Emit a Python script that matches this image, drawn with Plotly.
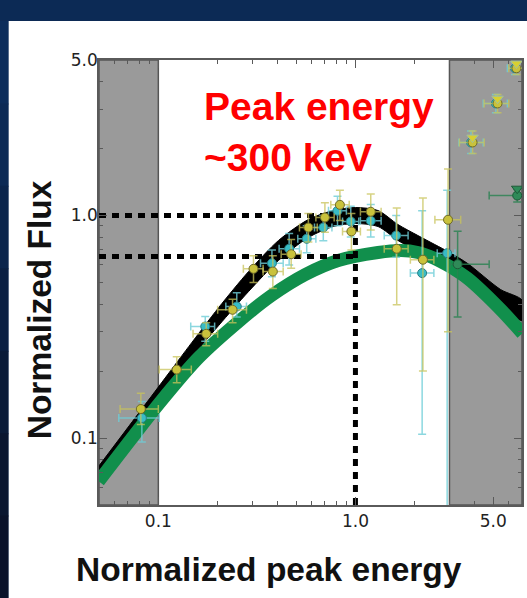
import plotly.graph_objects as go
import numpy as np

# ---------------- data ----------------
# black model band (upper / lower edges)
black_x = [0.05, 0.0711, 0.0997, 0.1429, 0.2025, 0.2871, 0.4071, 0.577, 0.7716, 1.0, 1.302, 1.643, 2.074, 2.527, 3.009, 3.709, 5.444, 7.03]
black_hi = [0.0750, 0.1134, 0.1689, 0.2581, 0.3862, 0.5604, 0.7724, 0.9595, 1.0530, 1.0862, 1.0530, 0.9112, 0.8131, 0.7407, 0.6823, 0.6087, 0.4653, 0.4152]
black_lo = [0.0712, 0.1055, 0.1524, 0.2233, 0.3207, 0.4557, 0.6281, 0.7963, 0.8925, 0.9206, 0.8925, 0.7724, 0.6894, 0.6281, 0.5780, 0.5160, 0.3862, 0.3377]

# green model curve
green_x = [0.0498, 0.102, 0.1605, 0.2557, 0.3753, 0.5571, 0.8177, 1.302, 1.701, 2.074, 2.527, 3.009, 3.709, 5.444, 7.03]
green_y = [0.0639, 0.1446, 0.2303, 0.3342, 0.4373, 0.5433, 0.6281, 0.6823, 0.6964, 0.6823, 0.641, 0.590, 0.5214, 0.3784, 0.2952]

# yellow data points
yel_x = [0.0815, 0.124, 0.175, 0.238, 0.304, 0.381, 0.472, 0.577, 0.70, 0.834, 0.954, 1.196, 1.62, 2.20, 2.95, 3.93, 5.26, 6.56]
yel_y = [0.135, 0.203, 0.294, 0.377, 0.576, 0.56, 0.67, 0.883, 0.98, 1.117, 0.848, 1.04, 0.709, 0.633, 0.957, 2.13, 3.19, 4.59]
yel_xlo = [0.064, 0.101, 0.15, 0.20, 0.27, 0.34, 0.42, 0.52, 0.63, 0.75, 0.86, 1.06, 1.40, 1.9, 2.53, 3.37, 4.5, 6.0]
yel_xhi = [0.100, 0.147, 0.20, 0.28, 0.34, 0.43, 0.53, 0.64, 0.78, 0.93, 1.06, 1.35, 1.85, 2.5, 3.42, 4.5, 6.0, 7.2]
yel_ylo = [0.115, 0.177, 0.26, 0.33, 0.50, 0.47, 0.58, 0.76, 0.84, 0.95, 0.70, 0.86, 0.397, 0.20, 0.30, 1.9, 2.9, 4.3]
yel_yhi = [0.159, 0.232, 0.33, 0.42, 0.66, 0.66, 0.78, 1.02, 1.14, 1.30, 1.02, 1.25, 1.08, 1.20, 1.62, 2.4, 3.5, 4.9]

# cyan data points
cyan_x = [0.0825, 0.173, 0.25, 0.377, 0.461, 0.566, 0.687, 0.811, 0.947, 1.196, 1.61, 2.18, 2.92, 3.86, 5.16, 6.45]
cyan_y = [0.123, 0.317, 0.39, 0.61, 0.709, 0.786, 0.883, 1.05, 0.94, 0.947, 0.813, 0.551, 0.677, 2.13, 3.19, 4.59]
cyan_xlo = [0.063, 0.146, 0.22, 0.33, 0.41, 0.51, 0.62, 0.73, 0.86, 1.06, 1.40, 1.9, 2.6, 3.35, 4.45, 5.9]
cyan_xhi = [0.101, 0.193, 0.28, 0.43, 0.52, 0.63, 0.76, 0.90, 1.04, 1.35, 1.85, 2.5, 3.2, 4.45, 5.9, 7.2]
cyan_ylo = [0.096, 0.272, 0.35, 0.53, 0.60, 0.68, 0.77, 0.90, 0.80, 0.80, 0.65, 0.104, 0.04, 1.9, 2.9, 4.3]
cyan_yhi = [0.146, 0.352, 0.45, 0.70, 0.83, 0.90, 1.00, 1.22, 1.10, 1.12, 1.00, 1.05, 1.30, 2.4, 3.5, 4.9]

# green data points
grn_x = [3.30, 6.62]
grn_y = [0.604, 1.23]
grn_xlo = [3.03, 4.77]
grn_xhi = [4.77, 7.2]
grn_ylo = [0.35, 1.15]
grn_yhi = [0.85, 1.31]

# upper-limit triangles
lim_yel_x = [3.93, 5.26, 6.56]
lim_yel_y = [2.24, 3.35, 4.82]
lim_grn_x = [6.62]
lim_grn_y = [1.32]

# reference lines
peak_x = 1.0
peak_flux = 1.0
green_ref_flux = 0.655

# shaded regions (x ranges)
shade_left = (0.05, 0.1)
shade_right = (3.0, 7.0)

x_range = (0.05, 7.0)
y_range = (0.05, 5.0)

x_tickvals = [0.1, 1.0, 5.0]
x_ticktext = ["0.1", "1.0", "5.0"]
y_tickvals = [0.1, 1.0, 5.0]
y_ticktext = ["0.1", "1.0", "5.0"]

# ---------------- figure ----------------
YEL = "#c9c23c"
YEL_ERR = "rgba(200,195,90,0.75)"
CYN = "#38bcc6"
CYN_ERR = "rgba(110,205,215,0.8)"
GRN = "#118f4c"
GRN_PT = "#2f8a58"

fig = go.Figure()

# gray shaded regions
for (a, b) in (shade_left, shade_right):
    fig.add_trace(go.Scatter(
        x=[a, b, b, a, a], y=[y_range[0], y_range[0], y_range[1], y_range[1], y_range[0]],
        fill="toself", fillcolor="#9a9a9a", mode="lines",
        line=dict(color="#555555", width=1.5), hoverinfo="skip", showlegend=False))

# black band
fig.add_trace(go.Scatter(
    x=list(black_x) + list(black_x[::-1]),
    y=list(black_hi) + list(black_lo[::-1]),
    fill="toself", fillcolor="black", mode="lines",
    line=dict(color="black", width=1, shape="spline", smoothing=0.8), hoverinfo="skip", showlegend=False))

# green curve
fig.add_trace(go.Scatter(x=green_x, y=green_y, mode="lines",
                         line=dict(color=GRN, width=13, shape="spline", smoothing=0.8),
                         hoverinfo="skip", showlegend=False))

# dashed reference lines
dash_style = dict(color="black", width=5, dash="7px,6px")
fig.add_trace(go.Scatter(x=[x_range[0], peak_x], y=[peak_flux, peak_flux], mode="lines",
                         line=dash_style, hoverinfo="skip", showlegend=False))
fig.add_trace(go.Scatter(x=[x_range[0], peak_x], y=[green_ref_flux, green_ref_flux], mode="lines",
                         line=dash_style, hoverinfo="skip", showlegend=False))
fig.add_trace(go.Scatter(x=[peak_x, peak_x], y=[y_range[0], peak_flux], mode="lines",
                         line=dash_style, hoverinfo="skip", showlegend=False))


def err_trace(xs, ys, xlo, xhi, ylo, yhi, fill, edge, ecol, symbol="circle", size=9):
    return go.Scatter(
        x=xs, y=ys, mode="markers",
        marker=dict(color=fill, size=size, symbol=symbol, line=dict(color=edge, width=1)),
        error_x=dict(type="data", symmetric=False,
                     array=[h - v for h, v in zip(xhi, xs)],
                     arrayminus=[v - l for l, v in zip(xlo, xs)],
                     color=ecol, thickness=1.5, width=4),
        error_y=dict(type="data", symmetric=False,
                     array=[h - v for h, v in zip(yhi, ys)],
                     arrayminus=[v - l for l, v in zip(ylo, ys)],
                     color=ecol, thickness=1.5, width=4),
        hoverinfo="skip", showlegend=False)


fig.add_trace(err_trace(cyan_x, cyan_y, cyan_xlo, cyan_xhi, cyan_ylo, cyan_yhi, CYN, "#2a7f86", CYN_ERR))
fig.add_trace(err_trace(yel_x, yel_y, yel_xlo, yel_xhi, yel_ylo, yel_yhi, YEL, "#6e6a2a", YEL_ERR))
fig.add_trace(err_trace(grn_x, grn_y, grn_xlo, grn_xhi, grn_ylo, grn_yhi, GRN_PT, "#1d5a38",
                        "rgba(40,130,80,0.8)"))
fig.add_trace(go.Scatter(x=lim_yel_x, y=lim_yel_y, mode="markers",
                         marker=dict(symbol="triangle-down", size=10, color="#d8d030",
                                     line=dict(color="#9fc0a0", width=1)),
                         hoverinfo="skip", showlegend=False))
fig.add_trace(go.Scatter(x=lim_grn_x, y=lim_grn_y, mode="markers",
                         marker=dict(symbol="triangle-down", size=10, color=GRN_PT,
                                     line=dict(color="#1d5a38", width=1)),
                         hoverinfo="skip", showlegend=False))

# ---------------- layout ----------------
ML, MR, MT, MB = 99, 3, 60, 93
W, H = 527, 598
pw, ph = W - ML - MR, H - MT - MB


def px_x(p):
    return (p - ML) / pw


def px_y(p):
    return 1 - (p - MT) / ph


shapes = [dict(type="rect", xref="paper", yref="paper",
               x0=px_x(8), x1=px_x(W + 20), y0=px_y(H + 20), y1=px_y(21),
               fillcolor="white", line=dict(width=0), layer="below")]
# navy gradient on the left strip
navy = ["#0c2d5b", "#0c2a55", "#0b254c", "#0b2042", "#0a1b38", "#0a162f", "#0a1229"]
n = len(navy)
for i, c in enumerate(navy):
    y0p = 21 + (H - 21) * i / n
    y1p = 21 + (H - 21) * (i + 1) / n
    shapes.append(dict(type="rect", xref="paper", yref="paper",
                       x0=px_x(-5), x1=px_x(8), y0=px_y(y1p + 1), y1=px_y(y0p),
                       fillcolor=c, line=dict(width=0), layer="below"))

axis_common = dict(
    type="log", showgrid=False, zeroline=False,
    showline=True, linecolor="#5a5a5a", linewidth=1.5, mirror="ticks",
    ticks="inside", ticklen=8, tickwidth=1, tickcolor="#5a5a5a",
    tickfont=dict(family="DejaVu Sans", size=17, color="#222222"),
)

fig.update_layout(
    width=W, height=H,
    margin=dict(l=ML, r=MR, t=MT, b=MB),
    paper_bgcolor="#0c2a55",
    plot_bgcolor="white",
    shapes=shapes,
    xaxis=dict(**axis_common, range=[np.log10(x_range[0]), np.log10(x_range[1])],
               tickmode="array", tickvals=x_tickvals, ticktext=x_ticktext,
               minor=dict(tickvals=[0.06, 0.07, 0.08, 0.09, 0.2, 0.3, 0.4, 0.5, 0.6, 0.7, 0.8, 0.9, 2, 3, 4, 6, 7],
                          ticks="inside", ticklen=4, tickcolor="#5a5a5a")),
    yaxis=dict(**axis_common, range=[np.log10(y_range[0]), np.log10(y_range[1])],
               tickmode="array", tickvals=y_tickvals, ticktext=y_ticktext, ticklabelstandoff=-4,
               minor=dict(tickvals=[0.06, 0.07, 0.08, 0.09, 0.2, 0.3, 0.4, 0.5, 0.6, 0.7, 0.8, 0.9, 2, 3, 4],
                          ticks="inside", ticklen=4, tickcolor="#5a5a5a")),
    annotations=[
        dict(text="<b>Peak energy<br>~300 keV</b>", xref="paper", yref="paper",
             x=px_x(202), y=px_y(132), xanchor="left", yanchor="middle", align="left",
             showarrow=False, font=dict(family="Liberation Sans", size=39, color="#ff0000")),
        dict(text="<b>Normalized peak energy</b>", xref="paper", yref="paper",
             x=px_x(270), y=px_y(569), xanchor="center", yanchor="middle",
             showarrow=False, font=dict(family="Liberation Sans", size=33.5, color="#111111")),
        dict(text="<b>Normalized Flux</b>", xref="paper", yref="paper",
             x=px_x(39), y=px_y(310), xanchor="center", yanchor="middle", textangle=-90,
             showarrow=False, font=dict(family="Liberation Sans", size=33.5, color="#111111")),
    ],
)

fig.write_html("out.html")
